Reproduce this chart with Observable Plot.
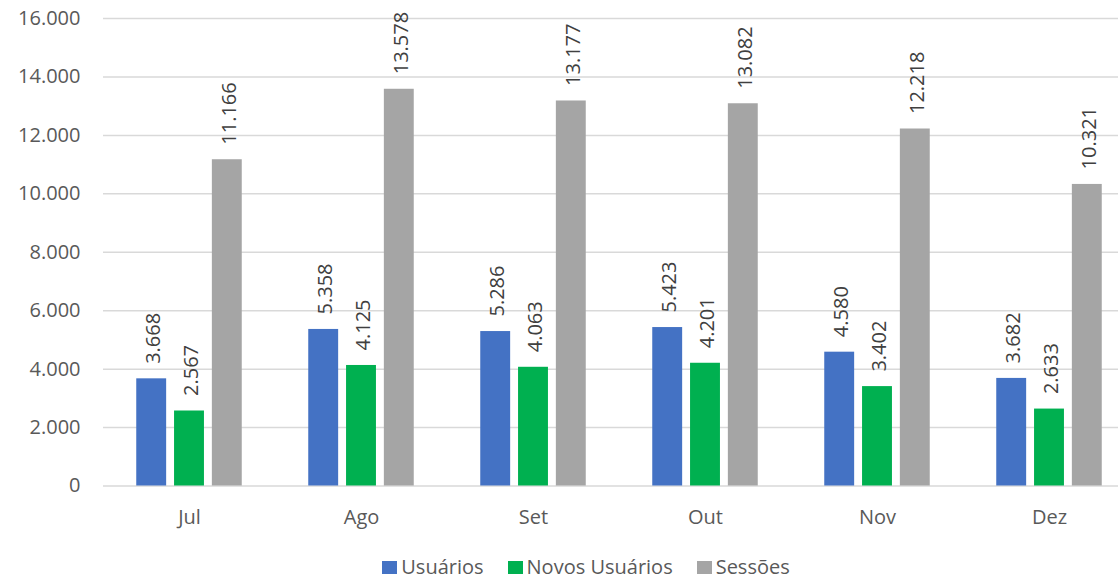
<!DOCTYPE html>
<html><head><meta charset="utf-8">
<script src="https://cdn.jsdelivr.net/npm/d3@7"></script>
<script src="https://cdn.jsdelivr.net/npm/@observablehq/plot@0.6"></script>
<style>
body{margin:0;background:#fff;font-family:"Open Sans",sans-serif;}
#chart{width:1118px;}
#legend{display:flex;justify-content:center;align-items:center;margin-top:15px;line-height:24px;font-size:20px;color:#595959;padding-left:54px;}
.item{display:flex;align-items:center;margin-right:24px;}
.item:last-child{margin-right:0;}
.sw{width:15px;height:13px;margin-right:4px;}
</style></head><body>
<div id="chart"></div>
<div id="legend"></div>
<script>
const months = ["Jul","Ago","Set","Out","Nov","Dez"];
const series = ["Usuários","Novos Usuários","Sessões"];
const usuarios = [3668,5358,5286,5423,4580,3682];
const novosUsuarios = [2567,4125,4063,4201,3402,2633];
const sessoes = [11166,13578,13177,13082,12218,10321];
const yTicks = [0,2000,4000,6000,8000,10000,12000,14000,16000];
const colors = ["#4472C4","#00B050","#A5A5A5"];

const valuesBySeries = [usuarios, novosUsuarios, sessoes];
const data = [];
series.forEach((s, si) => months.forEach((m, mi) => data.push({month: m, series: s, value: valuesBySeries[si][mi]})));

const locale = d3.formatLocale({decimal: ",", thousands: ".", grouping: [3], currency: ["R$", ""]});
const fmt = locale.format(",d");

const xRange = [102.7, 1135.3];
const bw = (xRange[1] - xRange[0]) / months.length;
const barW = 30, step = 37.8;
const offsets = [-1, 0, 1];

const marks = [Plot.ruleY(yTicks, {stroke: "#d9d9d9", strokeWidth: 1.5})];
series.forEach((s, i) => {
  const center = bw / 2 + offsets[i] * step;
  const rows = data.filter(d => d.series === s);
  marks.push(Plot.barY(rows, {
    x: "month", y: "value", fill: colors[i],
    insetLeft: center - barW / 2, insetRight: bw - center - barW / 2
  }));
  marks.push(Plot.text(rows, {
    x: "month", y: "value", text: d => fmt(d.value), rotate: -90,
    textAnchor: "start", dy: -15, dx: offsets[i] * step + 2, fill: "#404040", fontSize: 20
  }));
});
marks.push(Plot.axisY({ticks: yTicks, tickSize: 0, tickPadding: 23, tickFormat: fmt}));
marks.push(Plot.axisX({tickSize: 0, tickPadding: 24}));

const plot = Plot.plot({
  width: 1118, height: 540,
  marginLeft: 103, marginRight: 0, marginTop: 18, marginBottom: 54.5,
  style: {fontFamily: "Open Sans", fontSize: "20px", color: "#595959", background: "#fff"},
  x: {domain: months, range: xRange, padding: 0, label: null},
  y: {domain: [0, 16000], label: null},
  marks
});
document.getElementById("chart").append(plot);

const legend = document.getElementById("legend");
series.forEach((s, i) => {
  const it = document.createElement("div"); it.className = "item";
  const sw = document.createElement("div"); sw.className = "sw"; sw.style.background = colors[i];
  const tx = document.createElement("span"); tx.textContent = s;
  it.append(sw, tx); legend.append(it);
});
</script>
</body></html>
